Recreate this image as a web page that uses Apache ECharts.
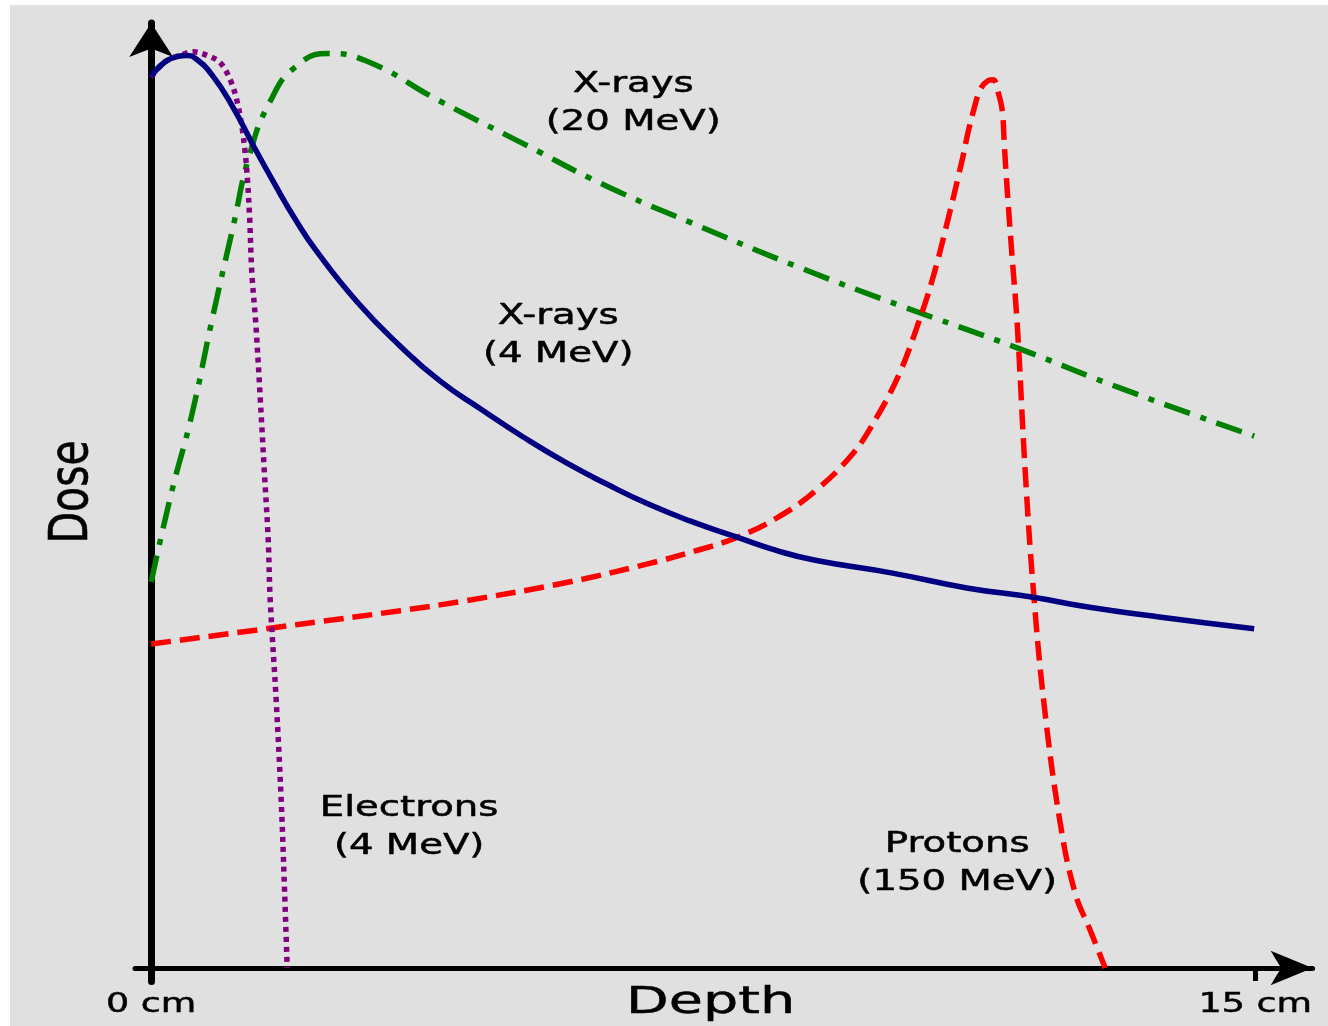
<!DOCTYPE html>
<html><head><meta charset="utf-8">
<script src="https://cdn.jsdelivr.net/npm/echarts@6/dist/echarts.min.js"></script>
<style>
html,body{margin:0;padding:0;background:#ffffff;width:1328px;height:1026px;overflow:hidden}
#chart{position:absolute;left:10px;top:5px;width:1318px;height:1021px;background:#e0e0e0}
</style>
</head><body><div id="chart"></div>
<script>
// depth in cm, dose in arbitrary units
const xrays20MeV = [[0,42.9],[0.272,52.7],[0.55,61.4],[0.829,72.1],[1.114,82.4],[1.338,90.4],[1.617,96.3],[1.957,100.1],[2.405,101.6],[2.916,100.8],[3.927,96.3],[5.054,91.6],[6.182,86.9],[7.31,82.9],[8.818,77.8],[10.177,73.6],[11.766,68.9],[13.179,64.4],[14.986,59.1]];
const protons150MeV = [[0,36.0],[2.024,38.2],[3.383,39.7],[4.266,40.8],[5.625,42.8],[6.746,44.9],[7.459,46.5],[7.948,47.8],[8.499,50.0],[9.022,53.0],[9.538,57.2],[9.851,61.1],[10.163,66.0],[10.421,71.6],[10.625,76.8],[10.842,83.7],[10.965,87.9],[11.033,90.3],[11.1,92.9],[11.168,95.1],[11.264,97.6],[11.372,98.6],[11.44,98.7],[11.508,97.3],[11.563,95.3],[11.59,91.7],[11.617,88.1],[11.685,80.3],[11.766,71.6],[11.875,55.2],[11.984,42.2],[12.133,29.2],[12.351,16.1],[12.554,8.3],[12.758,4.2],[12.962,0]];
const electrons4MeV = [[0,99.0],[0.19,100.7],[0.394,101.4],[0.571,101.8],[0.761,101.4],[0.938,100.6],[1.073,98.7],[1.164,96.4],[1.232,93.5],[1.277,90.6],[1.308,87.6],[1.338,83.3],[1.367,77.3],[1.423,71.4],[1.481,63.4],[1.535,55.5],[1.59,47.6],[1.617,40.9],[1.698,29.8],[1.766,18.7],[1.807,9.8],[1.848,0]];
const xrays4MeV = [[0,99.1],[0.19,100.7],[0.367,101.3],[0.476,101.4],[0.611,101.0],[0.829,99.2],[1.114,95.6],[1.399,91.2],[1.671,87.2],[1.957,83.2],[2.242,79.7],[2.799,74.0],[3.37,69.2],[3.927,65.2],[4.497,62.0],[5.054,59.0],[5.625,56.2],[6.182,53.8],[6.739,51.6],[7.31,49.7],[7.948,47.9],[8.492,46.4],[9.022,45.3],[10.054,43.9],[11.101,42.2],[11.984,41.2],[12.663,40.2],[13.696,39.0],[14.986,37.7]];
const tickValues = [0, 15];
const tickLabels = ['0 cm', '15 cm'];
const seriesNames = ['X-rays (20 MeV)', 'Protons (150 MeV)', 'Electrons (4 MeV)', 'X-rays (4 MeV)'];
const annotationTexts = ['X-rays\n(20 MeV)', 'X-rays\n(4 MeV)', 'Electrons\n(4 MeV)', 'Protons\n(150 MeV)'];
const annotationAt = [[6.549, 96.0], [5.53, 70.2], [3.505, 15.6], [10.951, 11.6]];
const xAxisName = 'Depth';
const yAxisName = 'Dose';

const chart = echarts.init(document.getElementById('chart'), null, {renderer: 'canvas'});
const FONT = '"DejaVu Sans", "Liberation Sans", sans-serif';
function lineSeries(name, data, color, dash, z, smooth) {
  return {
    name, type: 'line', data, showSymbol: false, smooth,
    silent: true, z,
    lineStyle: {color, width: 5.5, type: dash, cap: 'butt', join: 'round'}
  };
}
chart.setOption({
  animation: false,
  backgroundColor: 'transparent',
  grid: {left: 125, right: 15.4, top: 18, bottom: 44.5, containLabel: false},
  xAxis: {
    type: 'value', min: -0.22, max: 15.78,
    axisLine: {show: true, onZero: true, symbol: ['none', 'arrow'], symbolSize: [26, 42],
      lineStyle: {color: '#000', width: 5}},
    axisTick: {show: true, customValues: tickValues, length: 13, inside: false,
      lineStyle: {color: '#000', width: 5}},
    axisLabel: {show: false},
    splitLine: {show: false}
  },
  yAxis: {
    type: 'value', min: -1.5, max: 105,
    axisLine: {show: true, onZero: true, symbol: ['none', 'arrow'], symbolSize: [33, 34],
      lineStyle: {color: '#000', width: 7}},
    axisTick: {show: false}, axisLabel: {show: false}, splitLine: {show: false}
  },
  series: [
    lineSeries(seriesNames[0], xrays20MeV, '#008000', [27, 11, 6, 11], 2, 0.5),
    lineSeries(seriesNames[1], protons150MeV, '#ff0000', [20, 9], 3, 0.4),
    lineSeries(seriesNames[2], electrons4MeV, '#800080', [5, 5], 4, 0.35),
    lineSeries(seriesNames[3], xrays4MeV, '#000080', 'solid', 5, 0.5)
  ]
});

const px = (x, y) => chart.convertToPixel({gridIndex: 0}, [x, y]);
const origin = px(0, 0);
const graphics = [];
const textStyle = (t, size, extra) => Object.assign({text: t, font: size + 'px ' + FONT, fill: '#000',
  stroke: '#000', lineWidth: 0.5, align: 'center', verticalAlign: 'middle'}, extra || {});
annotationTexts.forEach((t, i) => {
  const p = px(annotationAt[i][0], annotationAt[i][1]);
  graphics.push({type: 'text', x: p[0], y: p[1], scaleX: 1.38, silent: true, z: 20,
    style: textStyle(t, 28, {lineHeight: 38})});
});
tickValues.forEach((v, i) => {
  const p = px(v, 0);
  graphics.push({type: 'text', x: p[0], y: origin[1] + 37, scaleX: 1.35, silent: true, z: 20,
    style: textStyle(tickLabels[i], 27)});
});
{
  const p = px(7.6, 0);
  graphics.push({type: 'text', x: p[0], y: origin[1] + 35, scaleX: 1.46, silent: true, z: 20,
    style: textStyle(xAxisName, 38)});
  const q = px(0, 52.9);
  graphics.push({type: 'text', x: origin[0] - 78, y: q[1], rotation: Math.PI / 2, scaleY: 1.3, silent: true, z: 20,
    style: textStyle(yAxisName, 41)});
}
chart.setOption({graphic: graphics});
</script>
</body></html>
